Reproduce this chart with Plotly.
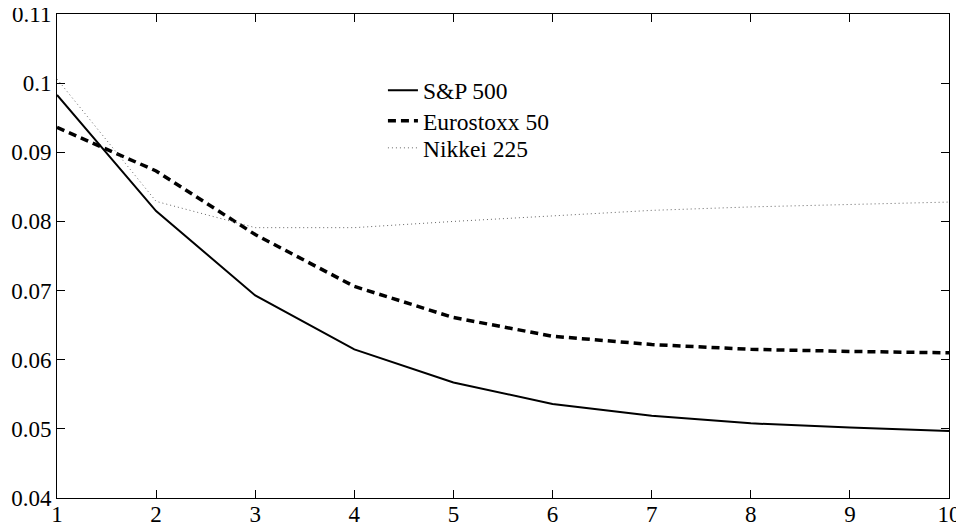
import plotly.graph_objects as go

horizon = [1, 2, 3, 4, 5, 6, 7, 8, 9, 10]
sp500 = [0.0983, 0.0815, 0.0693, 0.0615, 0.0567, 0.0536, 0.0519, 0.0508, 0.0502, 0.0497]
eurostoxx50 = [0.0936, 0.0873, 0.0781, 0.0706, 0.0661, 0.0634, 0.0622, 0.0615, 0.0612, 0.0610]
nikkei225 = [0.1006, 0.0829, 0.0791, 0.0791, 0.0800, 0.0808, 0.0816, 0.0821, 0.0825, 0.0828]

series_names = ["S&P 500", "Eurostoxx 50", "Nikkei 225"]
x_ticks = [1, 2, 3, 4, 5, 6, 7, 8, 9, 10]
y_ticks = [0.04, 0.05, 0.06, 0.07, 0.08, 0.09, 0.1, 0.11]
y_tick_labels = ["0.04", "0.05", "0.06", "0.07", "0.08", "0.09", "0.1", "0.11"]

FONT = "Liberation Serif"

fig = go.Figure()
fig.add_trace(go.Scatter(x=horizon, y=sp500, name=series_names[0], mode="lines",
                         line=dict(color="black", width=2), legend="legend"))
fig.add_trace(go.Scatter(x=horizon, y=eurostoxx50, name=series_names[1], mode="lines",
                         line=dict(color="black", width=3.5, dash="8px,5px"),
                         legend="legend2"))
fig.add_trace(go.Scatter(x=horizon, y=nikkei225, name=series_names[2], mode="lines",
                         line=dict(color="#666666", width=1, dash="1px,3px"),
                         legend="legend3"))

axis_common = dict(showgrid=False, zeroline=False, showline=True, linecolor="black",
                   linewidth=1, mirror="ticks", ticks="inside", ticklen=8,
                   tickcolor="black", tickwidth=1, automargin=False,
                   ticklabeloverflow="allow",
                   tickfont=dict(family=FONT, size=23, color="black"))

fig.update_xaxes(range=[1, 10], tickvals=x_ticks, ticktext=[str(v) for v in x_ticks],
                 ticklabelstandoff=-5, **axis_common)
fig.update_yaxes(range=[0.04, 0.11], tickvals=y_ticks, ticktext=y_tick_labels,
                 ticklabelstandoff=0, **axis_common)

leg_common = dict(x=0.3654, xanchor="left", yanchor="middle",
                  bgcolor="rgba(0,0,0,0)", borderwidth=0,
                  font=dict(family=FONT, size=23.5, color="black"))

fig.update_layout(
    width=964, height=529,
    margin=dict(l=49, r=23, t=6, b=39, autoexpand=False),
    paper_bgcolor="white", plot_bgcolor="white",
    font=dict(family=FONT, size=23, color="black"),
    showlegend=True,
    legend=dict(y=0.842, **leg_common),
    legend2=dict(y=0.779, **leg_common),
    legend3=dict(y=0.723, **leg_common),
)

fig.write_html("out.html")
